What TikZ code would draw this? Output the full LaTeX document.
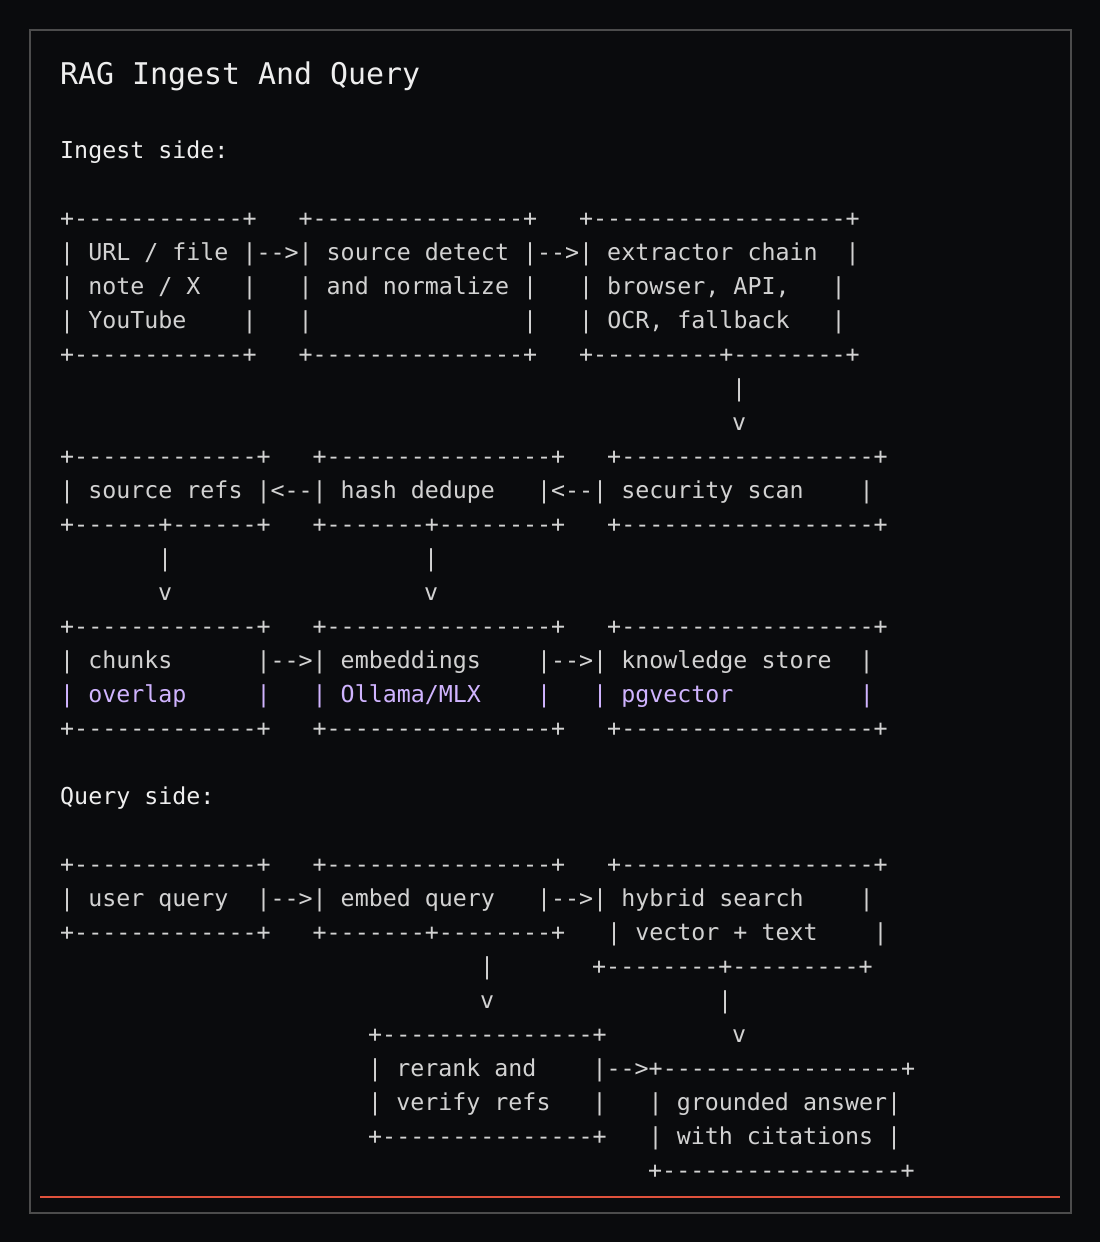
\documentclass[tikz,border=0pt]{standalone}
\usepackage{fontspec}
\setmonofont{DejaVu Sans Mono}
\definecolor{bg}{HTML}{0A0B0D}
\definecolor{fg}{HTML}{D2D2D2}
\definecolor{wh}{HTML}{EEEEEE}
\definecolor{pu}{HTML}{D0B4FF}
\definecolor{fr}{HTML}{4C4C4C}
\definecolor{rd}{HTML}{E0523C}
\begin{document}
\begin{tikzpicture}[x=1pt,y=-1pt,
  ln/.style={anchor=base west,inner sep=0pt,text=fg,font=\ttfamily\fontsize{23.3}{34}\selectfont},
  hd/.style={ln,text=wh},
  pl/.style={ln,text=pu}]
\fill[bg] (0,0) rectangle (1100,1242);
\useasboundingbox (0,0) rectangle (1100,1242);
\draw[fr,line width=1.5pt] (30,30) rectangle (1071,1213);
\draw[rd,line width=2.5pt] (40,1197) -- (1060,1197);
\node[hd,font=\ttfamily\fontsize{29.9}{34}\selectfont] (t) at (60,84) {RAG~Ingest~And~Query};
\node[hd] (h1) at (60,158) {Ingest~side:};
\node[ln] (a1) at (60,226) {+------------+~~~+---------------+~~~+------------------+};
\node[ln] (a2) at (60,260) {|~URL~/~file~|-->|~source~detect~|-->|~extractor~chain~~|};
\node[ln] (a3) at (60,294) {|~note~/~X~~~|~~~|~and~normalize~|~~~|~browser,~API,~~~|};
\node[ln] (a4) at (60,328) {|~YouTube~~~~|~~~|~~~~~~~~~~~~~~~|~~~|~OCR,~fallback~~~|};
\node[ln] (a5) at (60,362) {+------------+~~~+---------------+~~~+---------+--------+};
\node[ln] (a6) at (732,396) {|};
\node[ln] (a7) at (732,430) {v};
\node[ln] (b1) at (60,464) {+-------------+~~~+----------------+~~~+------------------+};
\node[ln] (b2) at (60,498) {|~source~refs~|<--|~hash~dedupe~~~|<--|~security~scan~~~~|};
\node[ln] (b3) at (60,532) {+------+------+~~~+-------+--------+~~~+------------------+};
\node[ln] (b4) at (158,566) {|};
\node[ln] (b5) at (424,566) {|};
\node[ln] (b6) at (158,600) {v};
\node[ln] (b7) at (424,600) {v};
\node[ln] (c1) at (60,634) {+-------------+~~~+----------------+~~~+------------------+};
\node[ln] (c2) at (60,668) {|~chunks~~~~~~|-->|~embeddings~~~~|-->|~knowledge~store~~|};
\node[pl] (c3) at (60,702) {|~overlap~~~~~|~~~|~Ollama/MLX~~~~|~~~|~pgvector~~~~~~~~~|};
\node[ln] (c4) at (60,736) {+-------------+~~~+----------------+~~~+------------------+};
\node[hd] (h2) at (60,804) {Query~side:};
\node[ln] (d1) at (60,872) {+-------------+~~~+----------------+~~~+------------------+};
\node[ln] (d2) at (60,906) {|~user~query~~|-->|~embed~query~~~|-->|~hybrid~search~~~~|};
\node[ln] (d3) at (60,940) {+-------------+~~~+-------+--------+~~~|~vector~+~text~~~~|};
\node[ln] (d4) at (480,974) {|};
\node[ln] (d5) at (592,974) {+--------+---------+};
\node[ln] (d6) at (480,1008) {v};
\node[ln] (d7) at (718,1008) {|};
\node[ln] (e1) at (368,1042) {+---------------+};
\node[ln] (e2) at (732,1042) {v};
\node[ln] (e3) at (368,1076) {|~rerank~and~~~~|-->+-----------------+};
\node[ln] (e4) at (368,1110) {|~verify~refs~~~|~~~|~grounded~answer|};
\node[ln] (e5) at (368,1144) {+---------------+~~~|~with~citations~|};
\node[ln] (e6) at (648,1178) {+-----------------+};
\end{tikzpicture}
\end{document}
